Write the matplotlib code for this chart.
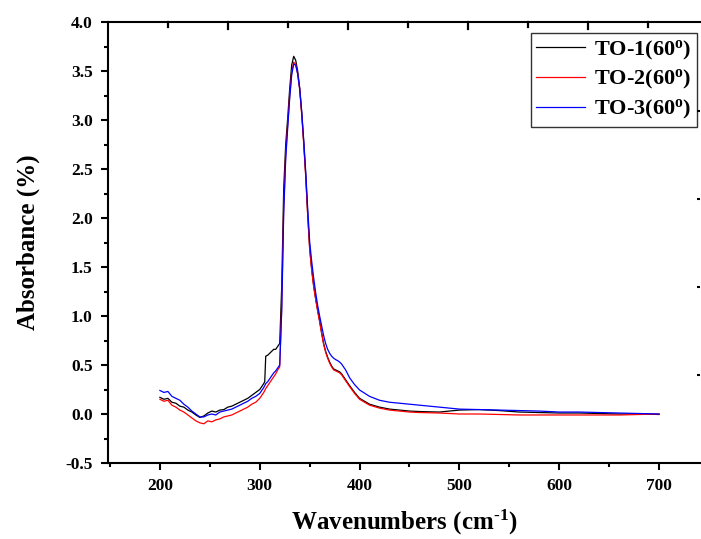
import matplotlib
matplotlib.use("Agg")
import matplotlib.pyplot as plt
from matplotlib.ticker import MultipleLocator, FixedLocator, NullFormatter

plt.rcParams['font.family'] = ['Liberation Serif', 'DejaVu Serif']
plt.rcParams['font.weight'] = 'bold'
plt.rcParams['mathtext.fontset'] = 'custom'
plt.rcParams['mathtext.rm'] = 'Liberation Serif:bold'
plt.rcParams['mathtext.bf'] = 'Liberation Serif:bold'
plt.rcParams['mathtext.it'] = 'Liberation Serif:bold'

# wavenumber grid (cm-1)
wn = [200, 204, 208, 212, 216, 220, 224, 228, 232, 236, 240, 244, 248, 252, 256,
      260, 264, 268, 272, 276, 280, 284, 288, 292, 296, 300, 302, 304, 305, 306,
      308, 310, 312, 314, 316, 318, 320, 322, 324, 326, 328, 330, 332, 334, 336,
      338, 340, 342, 344, 346, 348, 350, 352, 354, 356, 358, 360, 362, 364, 366,
      368, 370, 372, 374, 376, 378, 380, 382, 384, 386, 388, 390, 395, 400, 410,
      420, 430, 440, 450, 460, 480, 500, 520, 540, 560, 580, 600, 620, 640, 660,
      680, 700]

to1 = [0.17, 0.15, 0.16, 0.12, 0.11, 0.08, 0.07, 0.04, 0.02, -0.01, -0.035, -0.02, 0.01, 0.03, 0.02,
       0.04, 0.045, 0.07, 0.08, 0.10, 0.12, 0.14, 0.16, 0.19, 0.22, 0.25, 0.28, 0.31, 0.33, 0.59,
       0.60, 0.62, 0.64, 0.66, 0.66, 0.69, 0.72, 1.30, 2.30, 2.75, 3.02, 3.32, 3.56, 3.65, 3.61,
       3.50, 3.33, 3.08, 2.78, 2.45, 2.05, 1.70, 1.48, 1.31, 1.18, 1.06, 0.95, 0.83, 0.72, 0.64,
       0.58, 0.53, 0.49, 0.46, 0.45, 0.44, 0.43, 0.41, 0.38, 0.35, 0.32, 0.29, 0.22, 0.16, 0.10,
       0.07, 0.05, 0.04, 0.03, 0.025, 0.02, 0.04, 0.045, 0.035, 0.02, 0.015, 0.01, 0.01, 0.005, 0.0,
       0.0, -0.005]

to2 = [0.15, 0.13, 0.14, 0.09, 0.07, 0.04, 0.02, -0.01, -0.04, -0.07, -0.09, -0.10, -0.07, -0.08, -0.06,
       -0.05, -0.03, -0.02, -0.01, 0.01, 0.03, 0.05, 0.07, 0.10, 0.12, 0.16, 0.19, 0.22, 0.24, 0.26,
       0.29, 0.32, 0.35, 0.38, 0.41, 0.45, 0.48, 1.10, 2.10, 2.65, 2.95, 3.25, 3.48, 3.59, 3.57,
       3.47, 3.31, 3.06, 2.76, 2.43, 2.03, 1.68, 1.47, 1.30, 1.17, 1.05, 0.94, 0.82, 0.71, 0.63,
       0.57, 0.52, 0.48, 0.45, 0.44, 0.43, 0.42, 0.40, 0.37, 0.34, 0.31, 0.28, 0.21, 0.15, 0.09,
       0.06, 0.04, 0.03, 0.02, 0.015, 0.01, 0.0, 0.0, -0.005, -0.01, -0.01, -0.01, -0.01, -0.01, -0.01,
       -0.005, 0.0]

to3 = [0.24, 0.22, 0.23, 0.18, 0.16, 0.14, 0.10, 0.07, 0.03, 0.0, -0.03, -0.03, -0.01, 0.0, -0.01,
       0.02, 0.03, 0.04, 0.05, 0.07, 0.09, 0.11, 0.13, 0.16, 0.18, 0.21, 0.24, 0.27, 0.29, 0.31,
       0.33, 0.36, 0.39, 0.42, 0.44, 0.47, 0.50, 1.05, 2.05, 2.60, 2.92, 3.22, 3.46, 3.57, 3.56,
       3.47, 3.32, 3.09, 2.80, 2.48, 2.10, 1.76, 1.56, 1.39, 1.24, 1.11, 1.00, 0.90, 0.80, 0.72,
       0.66, 0.62, 0.59, 0.57, 0.555, 0.545, 0.53, 0.51, 0.48, 0.45, 0.41, 0.37, 0.30, 0.245, 0.18,
       0.14, 0.12, 0.11, 0.10, 0.09, 0.07, 0.05, 0.045, 0.04, 0.035, 0.03, 0.02, 0.02, 0.015, 0.01,
       0.005, 0.0]

labels = ['TO-1(60$^{o}$)', 'TO-2(60$^{o}$)', 'TO-3(60$^{o}$)']
colors = ['black', 'red', 'blue']

W, H = 701, 539
fig = plt.figure(figsize=(W / 100, H / 100), dpi=100)
ax = fig.add_axes([108 / W, 76 / H, 592 / W, 441 / H])

for y, c, lab in zip([to1, to2, to3], colors, labels):
    ax.plot(wn, y, color=c, lw=0.9, label=lab)

ax.set_xlim(148, 741)
ax.set_ylim(-0.5, 4.0)
ax.xaxis.set_major_locator(MultipleLocator(100))
ax.xaxis.set_minor_locator(MultipleLocator(50))
ax.yaxis.set_major_locator(MultipleLocator(0.5))
ax.yaxis.set_minor_locator(MultipleLocator(0.25))
ax.yaxis.set_major_formatter(plt.FormatStrFormatter('%.1f'))
ax.tick_params(which='major', direction='out', length=5, width=1.5, labelsize=12.5, pad=6)
ax.tick_params(which='minor', direction='out', length=3, width=1.5)
ax.tick_params(which='both', top=False, right=False)
ax.spines['right'].set_visible(False)
for s in ['left', 'bottom', 'top']:
    ax.spines[s].set_linewidth(1.5)

ax.set_xlabel('Wavenumbers (cm$^{\u2010 1}$)', fontsize=18, fontweight='bold', labelpad=10)
ax.set_ylabel('Absorbance (%)', fontsize=18, fontweight='bold', labelpad=18)

# ticks hanging from the top frame, every 60 px, long ones on even steps
top_px = H - (76 + 441)
for k in range(1, 10):
    xp = 108 + 60 * k
    tick_len = 7 if k % 2 == 0 else 5
    fig.add_artist(plt.Line2D([xp / W, xp / W], [1 - top_px / H, 1 - (top_px + tick_len) / H],
                              color='black', lw=1.6, transform=fig.transFigure, zorder=10))

# small marks along the right edge
rt = ax.twinx()
rt.set_ylim(0, 441 / 88)
rt.yaxis.set_major_locator(FixedLocator([1, 2, 3, 4]))
rt.yaxis.set_major_formatter(NullFormatter())
rt.tick_params(direction='in', length=2, width=1.5)
for s in rt.spines.values():
    s.set_visible(False)

leg = ax.legend(loc='upper right', bbox_to_anchor=(0.995, 0.975), fontsize=16,
                frameon=True, fancybox=False, edgecolor='black', handlelength=2.2,
                borderpad=0.25, labelspacing=0.3, handletextpad=0.4, borderaxespad=0)
leg.get_frame().set_linewidth(1.0)
leg.set_zorder(5)
for t in leg.get_texts():
    t.set_fontweight('bold')

plt.savefig('out.png', dpi=100)
plt.close()
